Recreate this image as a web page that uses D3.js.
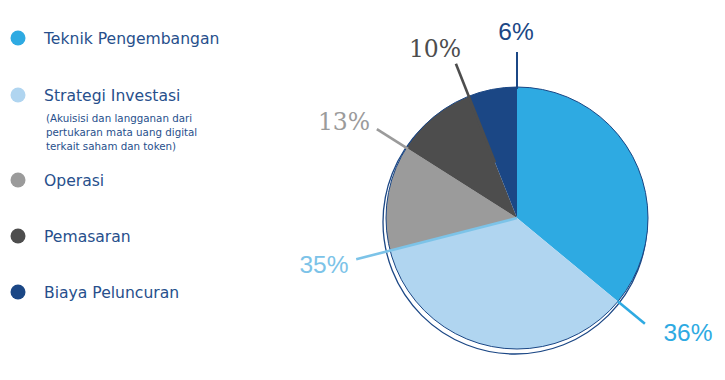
<!DOCTYPE html>
<html>
<head>
<meta charset="utf-8">
<script src="https://cdn.jsdelivr.net/npm/d3@7"></script>
<style>
  body { margin: 0; background: #ffffff; }
  svg { display: block; }
</style>
</head>
<body>
<div id="chart"></div>
<script>
// data
var categories = ["Teknik Pengembangan", "Strategi Investasi", "Operasi", "Pemasaran", "Biaya Peluncuran"];
var subNotes = ["", "(Akuisisi dan langganan dari|pertukaran mata uang digital|terkait saham dan token)", "", "", ""];
var values = [36, 35, 13, 10, 6];
var colors = ["#2eaae2", "#b0d5f0", "#9b9b9b", "#4d4d4d", "#1b4785"];
var lineColors = ["#2eaae2", "#7cc3e8", "#9b9b9b", "#4d4d4d", "#1b4785"];

var width = 725, height = 380;
var cx = 517, cy = 218, radius = 131;

var svg = d3.select("#chart").append("svg")
  .attr("width", width)
  .attr("height", height);

// legend
var legendY = [38, 95, 180, 236, 292];
var legend = svg.append("g").attr("class", "legend");
categories.forEach(function(name, i){
  legend.append("circle")
    .attr("cx", 18)
    .attr("cy", legendY[i])
    .attr("r", 7.5)
    .style("fill", colors[i]);
  legend.append("text")
    .attr("x", 44)
    .attr("y", legendY[i] + 5.5)
    .style("font-family", "'DejaVu Sans', sans-serif")
    .style("font-size", "15.6px")
    .style("fill", "#274f8c")
    .text(name);
  if(subNotes[i]){
    subNotes[i].split("|").forEach(function(line, j){
      legend.append("text")
        .attr("x", 46)
        .attr("y", legendY[i] + 27 + j * 14)
        .style("font-family", "'DejaVu Sans', sans-serif")
        .style("font-size", "10.3px")
        .style("fill", "#274f8c")
        .text(line);
    });
  }
});

// pie
var pie = d3.pie().sort(null).value(function(d){ return d; });
var arcs = pie(values);
var arc = d3.arc().innerRadius(0).outerRadius(radius);

var g = svg.append("g").attr("transform", "translate(" + cx + "," + cy + ")");

// outer ring, slightly offset
g.append("circle")
  .attr("cx", -2)
  .attr("cy", 4)
  .attr("r", radius + 1)
  .style("fill", "#ffffff")
  .style("stroke", "#1b4785")
  .style("stroke-width", 1.3);

g.selectAll("path.slice")
  .data(arcs)
  .enter().append("path")
  .attr("class", "slice")
  .attr("d", arc)
  .style("fill", function(d, i){ return colors[i]; });

g.append("circle")
  .attr("r", radius)
  .style("fill", "none")
  .style("stroke", "#1b4785")
  .style("stroke-width", 1);

// leader lines along each slice's end boundary
var lineStart = [radius, 0, radius - 2, 60, radius - 2];
var lineEnd = 166;
arcs.forEach(function(d, i){
  var a = d.endAngle;
  var sx = Math.sin(a), sy = -Math.cos(a);
  g.append("line")
    .attr("x1", sx * lineStart[i])
    .attr("y1", sy * lineStart[i])
    .attr("x2", sx * lineEnd)
    .attr("y2", sy * lineEnd)
    .style("stroke", lineColors[i])
    .style("stroke-width", i === 4 ? 2 : 2.6);
});

// percentage labels
var labelPos = [[688, 341], [324, 273], [344, 130], [435, 57], [516, 40]];
var labelFont = ["'Liberation Sans', sans-serif", "'Liberation Sans', sans-serif",
  "'DejaVu Serif', serif", "'DejaVu Serif', serif", "'Liberation Sans', sans-serif"];
var labelColor = ["#2eaae2", "#7cc3e8", "#9b9b9b", "#4d4d4d", "#1b4785"];
values.forEach(function(v, i){
  svg.append("text")
    .attr("x", labelPos[i][0])
    .attr("y", labelPos[i][1])
    .attr("text-anchor", "middle")
    .style("font-family", labelFont[i])
    .style("font-size", i >= 2 && i <= 3 ? "23.5px" : "24.5px")
    .style("font-weight", "normal")
    .style("fill", labelColor[i])
    .text(v + "%");
});
</script>
</body>
</html>
